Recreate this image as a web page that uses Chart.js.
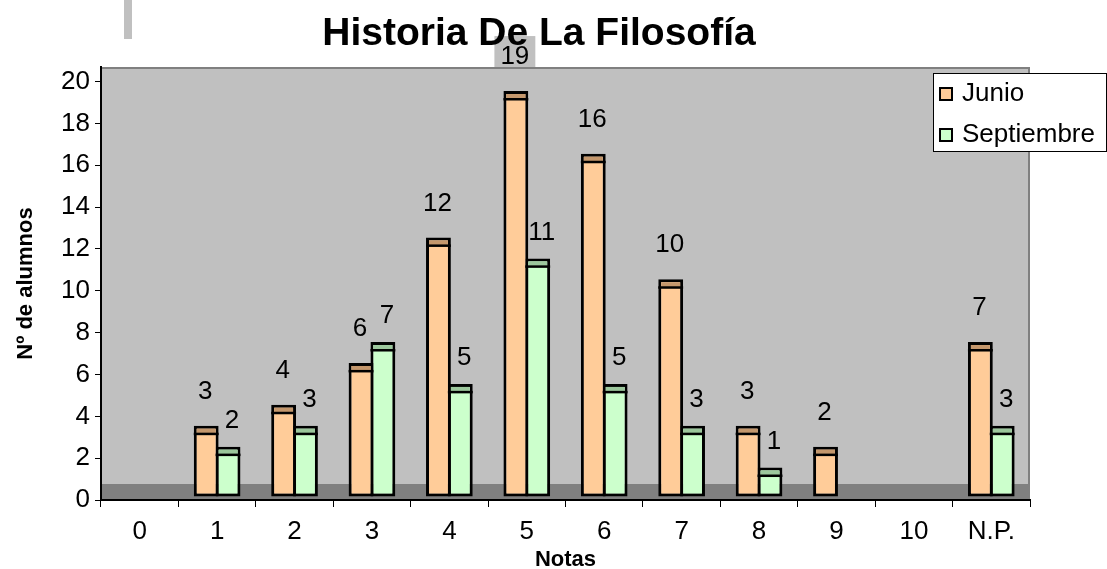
<!DOCTYPE html>
<html>
<head>
<meta charset="utf-8">
<title>Historia De La Filosofía</title>
<script src="https://cdn.jsdelivr.net/npm/chart.js@4.4.0/dist/chart.umd.min.js"></script>
<style>
	html, body { margin: 0; padding: 0; background: #fff; }
	canvas { display: block; }
</style>
</head>
<body>
<canvas id="chart" width="1107" height="569"></canvas>
<script>
// datos
const notas = ['0', '1', '2', '3', '4', '5', '6', '7', '8', '9', '10', 'N.P.'];
const junio = [0, 3, 4, 6, 12, 19, 16, 10, 3, 2, 0, 7];
const septiembre = [0, 2, 3, 7, 5, 11, 5, 3, 1, 0, 0, 3];
const yTicks = [0, 2, 4, 6, 8, 10, 12, 14, 16, 18, 20];

const FONT = "'Liberation Sans', Arial, sans-serif";

// aspecto tipo Excel 3D
const look = {
	base: 0.17,     // la barra 3D arranca un poco por encima del suelo
	cap: 0.38,      // altura de la tapa superior
	border: 3,
	faces: ['#FFCC99', '#CCFFCC'],
	caps: ['#C4976C', '#9CC79C'],
	labelDx: [-1, 4],
	labelDy: [34, 26]
};

const series = [junio, septiembre];
const floating = vals => vals.map(v => v > 0 ? [look.base, v + look.base + look.cap] : null);

const excelLook = {
	id: 'excelLook',
	beforeDraw(chart) {
		const { ctx, chartArea: a } = chart;
		ctx.save();
		// barra decorativa arriba a la izquierda
		ctx.fillStyle = '#C0C0C0';
		ctx.fillRect(124, 0, 8, 39);
		// fondo del área de trazado
		ctx.fillStyle = '#C0C0C0';
		ctx.fillRect(a.left, a.top, a.right - a.left, a.bottom - a.top);
		// suelo
		ctx.fillStyle = '#808080';
		ctx.fillRect(a.left, a.bottom - 16, a.right - a.left, 16);
		// borde superior y derecho
		ctx.strokeStyle = '#808080';
		ctx.lineWidth = 2;
		ctx.beginPath();
		ctx.moveTo(a.left, a.top + 1);
		ctx.lineTo(a.right - 1, a.top + 1);
		ctx.lineTo(a.right - 1, a.bottom);
		ctx.stroke();
		ctx.restore();
	},
	afterDatasetsDraw(chart) {
		const { ctx, chartArea: a } = chart;
		const yScale = chart.scales.y;
		const b = look.border;
		ctx.save();
		ctx.font = '26px ' + FONT;
		ctx.textAlign = 'center';
		ctx.textBaseline = 'middle';
		series.forEach((vals, i) => {
			const meta = chart.getDatasetMeta(i);
			meta.data.forEach((el, j) => {
				const v = vals[j];
				if (!v) return;
				const { x, y, width } = el.getProps(['x', 'y', 'width'], true);
				const yLine = yScale.getPixelForValue(v + look.base);
				// tapa
				ctx.fillStyle = look.caps[i];
				ctx.fillRect(x - width / 2 + b, y + b, width - 2 * b, yLine - y - b);
				ctx.fillStyle = '#000';
				ctx.fillRect(x - width / 2, yLine - 1, width, 2.5);
				// etiqueta
				const lx = x + look.labelDx[i];
				const ly = y - look.labelDy[i];
				const txt = String(v);
				if (ly - 14 < a.top) {
					const tw = ctx.measureText(txt).width;
					ctx.fillStyle = '#C0C0C0';
					ctx.fillRect(lx - tw / 2 - 6, ly - 21, tw + 12, a.top - (ly - 21));
				}
				ctx.fillStyle = '#000';
				ctx.fillText(txt, lx, ly);
			});
		});
		ctx.restore();
	},
	afterDraw(chart) {
		const { ctx } = chart;
		ctx.save();
		// leyenda
		ctx.fillStyle = '#fff';
		ctx.fillRect(933, 73, 174, 79);
		ctx.strokeStyle = '#000';
		ctx.lineWidth = 1;
		ctx.strokeRect(933.5, 73.5, 173, 78);
		ctx.font = '26px ' + FONT;
		ctx.textAlign = 'left';
		ctx.textBaseline = 'middle';
		chart.data.datasets.forEach((ds, i) => {
			const cy = 94 + i * 41;
			ctx.fillStyle = ds.backgroundColor;
			ctx.fillRect(940, cy - 6, 12, 12);
			ctx.strokeStyle = '#000';
			ctx.lineWidth = 2;
			ctx.strokeRect(940, cy - 6, 12, 12);
			ctx.fillStyle = '#000';
			ctx.fillText(ds.label, 962, cy);
		});
		// título
		ctx.font = 'bold 39px ' + FONT;
		ctx.textAlign = 'center';
		ctx.textBaseline = 'alphabetic';
		ctx.fillStyle = '#000';
		ctx.fillText('Historia De La Filosofía', 539, 45);
		ctx.restore();
	}
};

new Chart(document.getElementById('chart'), {
	type: 'bar',
	data: {
		labels: notas,
		datasets: [
			{
				label: 'Junio',
				data: floating(junio),
				backgroundColor: look.faces[0],
				borderColor: '#000',
				borderWidth: look.border,
				borderSkipped: false
			},
			{
				label: 'Septiembre',
				data: floating(septiembre),
				backgroundColor: look.faces[1],
				borderColor: '#000',
				borderWidth: look.border,
				borderSkipped: false
			}
		]
	},
	options: {
		responsive: false,
		animation: false,
		categoryPercentage: 0.5645,
		barPercentage: 1.137,
		layout: { padding: { top: 67, right: 77, left: 0, bottom: 0 } },
		plugins: {
			legend: { display: false },
			title: { display: false },
			tooltip: { enabled: false }
		},
		scales: {
			x: {
				afterFit(scale) { scale.height = 69; },
				grid: {
					offset: true,
					drawOnChartArea: false,
					drawTicks: true,
					tickLength: 7,
					color: '#000',
					lineWidth: 1
				},
				border: { display: true, color: '#000', width: 2 },
				ticks: {
					color: '#000',
					font: { family: FONT, size: 26 },
					padding: 9,
					maxRotation: 0,
					autoSkip: false
				},
				title: {
					display: true,
					text: 'Notas',
					color: '#000',
					font: { family: FONT, size: 22, weight: 'bold' },
					padding: { top: 0, bottom: -4 }
				}
			},
			y: {
				min: 0,
				max: 20.7,
				afterFit(scale) { scale.width = 101; },
				afterBuildTicks(scale) {
					scale.ticks = yTicks.map(v => ({ value: v }));
				},
				grid: {
					drawOnChartArea: false,
					drawTicks: true,
					tickLength: 6,
					color: '#000',
					lineWidth: 1
				},
				border: { display: true, color: '#000', width: 2 },
				ticks: {
					color: '#000',
					font: { family: FONT, size: 26 },
					padding: 5
				},
				title: {
					display: true,
					text: 'Nº de alumnos',
					color: '#000',
					font: { family: FONT, size: 22, weight: 'bold' },
					padding: { top: 13, bottom: 0 }
				}
			}
		}
	},
	plugins: [excelLook]
});
</script>
</body>
</html>
